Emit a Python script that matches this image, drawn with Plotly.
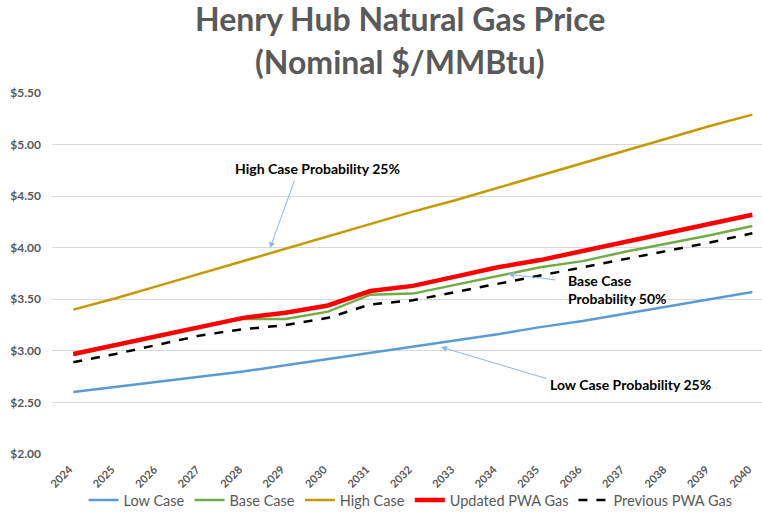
import plotly.graph_objects as go

years = list(range(2024, 2041))
low_case = [2.60, 2.65, 2.70, 2.75, 2.80, 2.86, 2.92, 2.98, 3.04, 3.10, 3.16, 3.23, 3.29, 3.36, 3.43, 3.50, 3.57]
base_case = [2.96, 3.05, 3.14, 3.23, 3.31, 3.31, 3.38, 3.545, 3.555, 3.64, 3.73, 3.81, 3.87, 3.96, 4.04, 4.12, 4.21]
high_case = [3.40, 3.51, 3.63, 3.75, 3.87, 3.99, 4.11, 4.23, 4.35, 4.46, 4.58, 4.70, 4.82, 4.94, 5.06, 5.18, 5.29]
updated_pwa = [2.97, 3.06, 3.15, 3.24, 3.32, 3.37, 3.44, 3.58, 3.63, 3.72, 3.81, 3.88, 3.97, 4.06, 4.15, 4.23, 4.32]
previous_pwa = [2.89, 2.97, 3.06, 3.15, 3.21, 3.25, 3.32, 3.45, 3.49, 3.57, 3.65, 3.73, 3.81, 3.89, 3.97, 4.05, 4.14]
y_ticks = [2.0, 2.5, 3.0, 3.5, 4.0, 4.5, 5.0, 5.5]
y_tick_labels = ["$%.2f" % v for v in y_ticks]
title_lines = ["Henry Hub Natural Gas Price", "(Nominal $/MMBtu)"]

GRAY = "#595959"
FONT = "Lato"

fig = go.Figure()
series = [
    ("Low Case", low_case, dict(color="#5B9BD5", width=2.5)),
    ("Base Case", base_case, dict(color="#70AD47", width=2.5)),
    ("High Case", high_case, dict(color="#C49A00", width=2.5)),
    ("Updated PWA Gas", updated_pwa, dict(color="#FF0000", width=4.5)),
    ("Previous PWA Gas", previous_pwa, dict(color="#000000", width=2.5, dash="dash")),
]
for name, vals, line in series:
    fig.add_trace(go.Scatter(x=years, y=vals, name=name, mode="lines", line=line))


def px2x(px):
    return 2024 + (px - 73.3) / 42.44


def py2y(py):
    return 2 + (454 - py) / 103.2


arrow_color = "#8DB8E2"
ann_font = dict(family=FONT, size=14, color="#000000", weight="bold")

# title lines
for line_text, yp in zip(title_lines, [1.205, 1.088]):
    fig.add_annotation(x=0.49, y=yp, xref="paper", yref="paper", text=line_text, showarrow=False,
                       xanchor="center", yanchor="middle",
                       font=dict(family=FONT, size=32, color=GRAY, weight="bold"))

# text annotations
fig.add_annotation(x=px2x(317), y=py2y(168), xref="x", yref="y", text="High Case Probability 25%",
                   showarrow=False, font=ann_font, xanchor="center", yanchor="middle")
fig.add_annotation(x=px2x(566), y=py2y(289), xref="x", yref="y", text="Base Case<br>Probability 50%",
                   showarrow=False, font=ann_font, xanchor="left", yanchor="middle", align="left")
fig.add_annotation(x=px2x(548), y=py2y(384), xref="x", yref="y", text="Low Case Probability 25%",
                   showarrow=False, font=ann_font, xanchor="left", yanchor="middle")

# arrows
for (tx, ty), (hx, hy) in [((295, 179), (270, 248)), ((557, 280), (508, 274)), ((548, 379), (441, 347))]:
    fig.add_annotation(x=px2x(hx), y=py2y(hy), ax=px2x(tx), ay=py2y(ty), xref="x", yref="y",
                       axref="x", ayref="y", text="", showarrow=True, arrowhead=2, arrowsize=1.2,
                       arrowwidth=1, arrowcolor=arrow_color)

fig.update_layout(
    width=762, height=516,
    margin=dict(l=52, r=0, t=93, b=62),
    paper_bgcolor="white", plot_bgcolor="white",
    font=dict(family=FONT, color=GRAY),
    showlegend=True,
    legend=dict(orientation="h", x=0.505, xanchor="center", y=-0.1717, yanchor="bottom",
                bgcolor="rgba(0,0,0,0)",
                font=dict(family=FONT, size=14.5, color=GRAY), itemwidth=30, tracegroupgap=0),
    xaxis=dict(range=[px2x(52), px2x(762)], tickmode="array", tickvals=years,
               ticktext=[str(y) for y in years], tickangle=-45, showgrid=False, zeroline=False,
               showline=False, ticks="", ticklabelstandoff=6, ticklabelshift=-4,
               tickfont=dict(family=FONT, size=11, color=GRAY, weight="bold")),
    yaxis=dict(range=[2.0, 5.5], tickmode="array", tickvals=y_ticks, ticktext=y_tick_labels,
               showgrid=True, gridcolor="#D9D9D9", gridwidth=1, zeroline=False, showline=False,
               ticks="", ticklabelstandoff=10,
               tickfont=dict(family=FONT, size=12, color=GRAY, weight="bold")),
)

fig.write_html("out.html", config={"displayModeBar": False},
               post_script="document.body.style.margin='0';")
